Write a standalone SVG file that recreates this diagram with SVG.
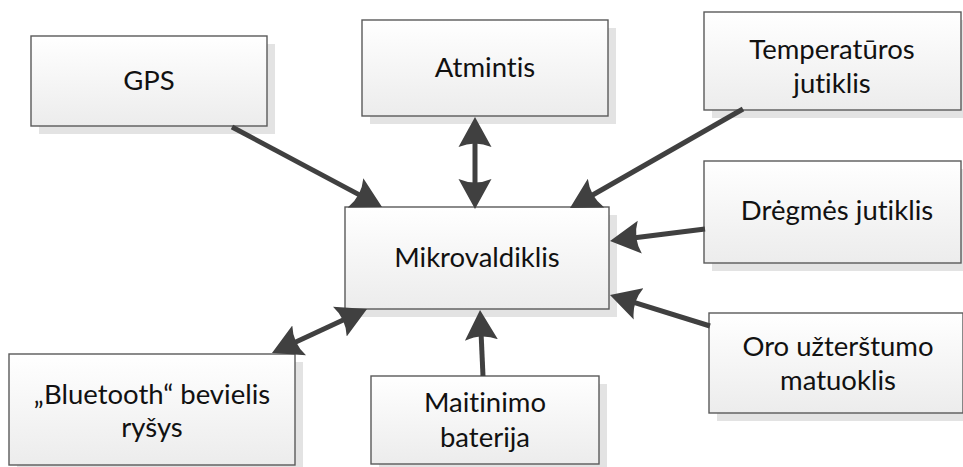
<svg xmlns="http://www.w3.org/2000/svg" width="963" height="467" viewBox="0 0 963 467">
  <style>
    .shadow { fill: #e3e3e3; stroke: none; }
    .box { fill: url(#boxFill); stroke: #5a5a5a; stroke-width: 1.4; }
    .label { font-family: Lato, "Open Sans", "DejaVu Sans", sans-serif; font-size: 27.5px; fill: #111; text-anchor: middle; font-variant-ligatures: none; font-feature-settings: "liga" 0, "clig" 0; }
    .link { stroke: #404040; stroke-width: 5; fill: none; }
    .one { marker-end: url(#head); }
    .two { marker-start: url(#head); marker-end: url(#head); }
  </style>
  <defs>
    <linearGradient id="boxFill" x1="0" y1="0" x2="0" y2="1">
      <stop offset="0" stop-color="#ffffff"/>
      <stop offset="1" stop-color="#ececec"/>
    </linearGradient>
    <marker id="head" markerUnits="userSpaceOnUse" viewBox="0 0 32 34" markerWidth="32" markerHeight="34" refX="15" refY="17" orient="auto-start-reverse">
      <path d="M30,17 L0,0.5 Q7,17 0,33.5 Z" fill="#404040"/>
    </marker>
  </defs>

  <rect width="963" height="467" fill="#ffffff"/>

  <g id="gps">
    <rect class="shadow" x="39" y="44" width="236" height="90"/>
    <rect class="box" x="31" y="36" width="236" height="90"/>
    <text class="label" x="149" y="90">GPS</text>
  </g>

  <g id="atmintis">
    <rect class="shadow" x="370" y="28" width="246" height="96"/>
    <rect class="box" x="362" y="20" width="246" height="96"/>
    <text class="label" x="485" y="77">Atmintis</text>
  </g>

  <g id="temperaturos">
    <rect class="shadow" x="712" y="20" width="257" height="98"/>
    <rect class="box" x="704" y="12" width="257" height="98"/>
    <text class="label" x="832" y="59">Temperatūros</text>
    <text class="label" x="832" y="93">jutiklis</text>
  </g>

  <g id="dregmes">
    <rect class="shadow" x="712" y="169" width="257" height="102"/>
    <rect class="box" x="704" y="161" width="257" height="102"/>
    <text class="label" x="837" y="220">Drėgmės jutiklis</text>
  </g>

  <g id="mikrovaldiklis">
    <rect class="shadow" x="353" y="215" width="264" height="102"/>
    <rect class="box" x="345" y="207" width="264" height="102"/>
    <text class="label" x="477" y="267">Mikrovaldiklis</text>
  </g>

  <g id="oro">
    <rect class="shadow" x="717" y="321" width="254" height="100"/>
    <rect class="box" x="709" y="313" width="254" height="100"/>
    <text class="label" x="838" y="356">Oro užterštumo</text>
    <text class="label" x="838" y="390">matuoklis</text>
  </g>

  <g id="bluetooth">
    <rect class="shadow" x="17" y="362" width="286" height="111"/>
    <rect class="box" x="9" y="354" width="286" height="111"/>
    <text class="label" x="152" y="404">„Bluetooth“ bevielis</text>
    <text class="label" x="152" y="437">ryšys</text>
  </g>

  <g id="maitinimo">
    <rect class="shadow" x="379" y="384" width="228" height="88"/>
    <rect class="box" x="371" y="376" width="228" height="88"/>
    <text class="label" x="485" y="412">Maitinimo</text>
    <text class="label" x="485" y="447">baterija</text>
  </g>

  <g id="connectors">
    <line class="link one" x1="232" y1="127" x2="368.8" y2="199.9"/>
    <line class="link two" x1="475" y1="132" x2="475" y2="194"/>
    <line class="link one" x1="743" y1="109" x2="583" y2="200.5"/>
    <line class="link one" x1="705" y1="229" x2="624.9" y2="239.1"/>
    <line class="link one" x1="710" y1="326" x2="624.3" y2="299.4"/>
    <line class="link one" x1="483" y1="376" x2="480.7" y2="325"/>
    <line class="link two" x1="285.6" y1="346.7" x2="353.4" y2="315.3"/>
  </g>
</svg>
